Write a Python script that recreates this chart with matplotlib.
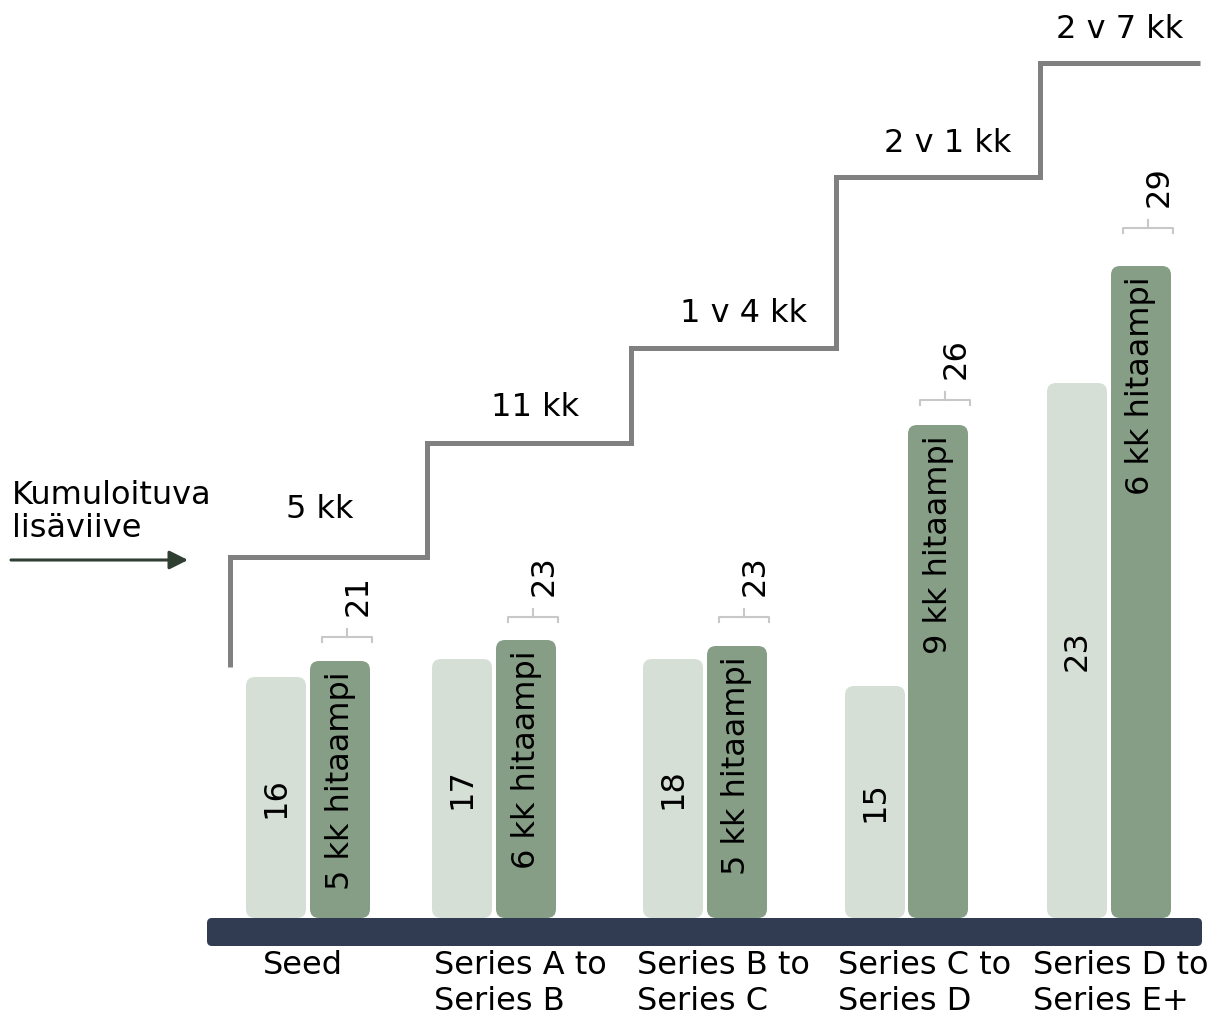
import matplotlib.pyplot as plt
from matplotlib.patches import FancyBboxPatch

# Data
stages = ["Seed", "Series A to\nSeries B", "Series B to\nSeries C", "Series C to\nSeries D", "Series D to\nSeries E+"]
light_values = [16, 17, 18, 15, 23]
dark_values = [21, 23, 23, 26, 29]
delay_labels = ["5 kk hitaampi", "6 kk hitaampi", "5 kk hitaampi", "9 kk hitaampi", "6 kk hitaampi"]
cum_months = [5, 11, 16, 25, 31]
cum_labels = ["5 kk", "11 kk", "1 v 4 kk", "2 v 1 kk", "2 v 7 kk"]

# Bar heights as drawn in the infographic (not to scale with the values)
light_height = [241, 259, 259, 232, 535]
dark_height = [257, 278, 272, 493, 652]

# Layout (pixel units, baseline at 0)
light_x = [246, 432, 643, 845, 1047]
dark_x = [310, 496, 707, 908, 1111]
bar_w = 60
bracket_y = [281, 301, 301, 518, 690]
label_x = [303, 520, 723, 925, 1121]
step_edges = [230, 427, 631, 836, 1040, 1200]
step_start = 251
step_label_x = [320, 535, 744, 948, 1120]
step_label_off = [47, 36, 35, 34, 34]

LIGHT = "#d6dfd6"
DARK = "#869e85"
BASE = "#313b52"
STEP = "#808080"
BRACKET = "#c8c8c8"
FS = 23

fig = plt.figure(figsize=(12.14, 10.15), dpi=100)
ax = fig.add_axes([0, 0, 1, 1])
ax.set_xlim(0, 1214)
ax.set_ylim(-97, 918)
ax.axis("off")

for i in range(len(stages)):
    ax.add_patch(FancyBboxPatch((light_x[i], 0), bar_w, light_height[i],
                                boxstyle="round,pad=0,rounding_size=9",
                                fc=LIGHT, ec="none", zorder=2))
    ax.add_patch(FancyBboxPatch((dark_x[i], 0), bar_w, dark_height[i],
                                boxstyle="round,pad=0,rounding_size=9",
                                fc=DARK, ec="none", zorder=2))
    # light value inside bar
    ax.text(light_x[i] + bar_w / 2, light_height[i] / 2, str(light_values[i]),
            rotation=90, ha="center", va="center", fontsize=FS, color="black", zorder=3)
    # delay text inside dark bar
    ax.text(dark_x[i] + bar_w / 2, dark_height[i] - 10, delay_labels[i],
            rotation=90, ha="center", va="top", fontsize=FS, color="black", zorder=3)
    # bracket + dark value
    x0 = dark_x[i] + 12
    x1 = dark_x[i] + bar_w + 2
    xc = (x0 + x1) / 2
    y = bracket_y[i]
    ax.plot([x0, x0, x1, x1], [y - 5, y, y, y - 5], color=BRACKET, lw=1.5, zorder=2)
    ax.plot([xc, xc], [y, y + 8], color=BRACKET, lw=1.5, zorder=2)
    ax.text(dark_x[i] + bar_w / 2 + 18, y + 21, str(dark_values[i]),
            rotation=90, ha="center", va="bottom", fontsize=FS, color="black")
    # category label
    ax.text(label_x[i], -32, stages[i], ha="center", va="top",
            multialignment="left", fontsize=FS, linespacing=1.2)

# Base platform
ax.add_patch(FancyBboxPatch((207, -28), 995, 28, boxstyle="round,pad=0,rounding_size=5",
                            fc=BASE, ec="none", zorder=4))

# Cumulative delay staircase
levels = [266 + 19 * m for m in cum_months]
xs = [step_edges[0]]
ys = [step_start]
for i, lv in enumerate(levels):
    xs += [step_edges[i], step_edges[i + 1]]
    ys += [lv, lv]
ax.plot(xs, ys, color=STEP, lw=3.6, solid_joinstyle="miter", solid_capstyle="butt")
for i, lv in enumerate(levels):
    ax.text(step_label_x[i], lv + step_label_off[i], cum_labels[i],
            ha="center", va="center", fontsize=FS)

# Left annotation
ax.text(12, 406, "Kumuloituva\nlisäviive", ha="left", va="center", fontsize=FS, linespacing=1.05)
ax.annotate("", xy=(188, 358), xytext=(11, 358),
            arrowprops=dict(arrowstyle="-|>", color="#2f3f31", lw=2.2,
                            mutation_scale=28, shrinkA=0, shrinkB=0))

fig.savefig("out.png", dpi=100)
